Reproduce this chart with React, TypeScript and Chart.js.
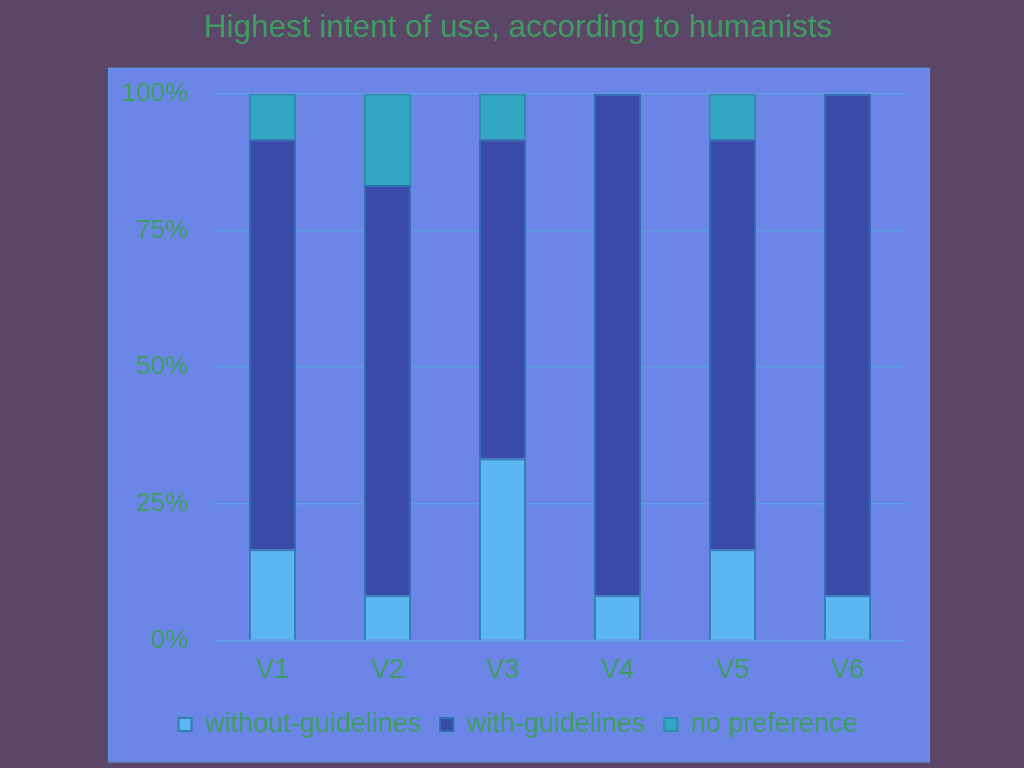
import React, { useEffect, useRef } from "react";
import { Chart, registerables } from "chart.js";

Chart.register(...registerables);

const categories = ["V1", "V2", "V3", "V4", "V5", "V6"];
const withoutGuidelines = [16.7, 8.3, 33.3, 8.3, 16.7, 8.3];
const withGuidelines = [75.0, 75.0, 58.4, 91.7, 75.0, 91.7];
const noPreference = [8.3, 16.7, 8.3, 0, 8.3, 0];
const yTicks = [0, 25, 50, 75, 100];
const titleText = "Highest intent of use, according to humanists";

const TEXT = "#3e9e62";
const FONT = "'Liberation Sans', Arial, sans-serif";

const backgroundPlugin = {
  id: "bgBox",
  beforeDraw(chart: any) {
    const { ctx, chartArea } = chart;
    ctx.save();
    ctx.fillStyle = "#5b4668";
    ctx.fillRect(0, 0, chart.width, chart.height);
    const l = chartArea.left - 107;
    const t = chartArea.top - 26;
    const r = chartArea.right + 24;
    const b = chartArea.bottom + 121;
    ctx.fillStyle = "#6b86e6";
    ctx.fillRect(l, t, r - l, b - t);
    ctx.strokeStyle = "#5b9ae6";
    ctx.lineWidth = 1;
    ctx.strokeRect(l + 0.5, t + 0.5, r - l, b - t);
    ctx.restore();
  },
};

export default function App() {
  const ref = useRef<HTMLCanvasElement | null>(null);
  useEffect(() => {
    if (!ref.current) return;
    const chart = new Chart(ref.current, {
      type: "bar",
      data: {
        labels: categories,
        datasets: [
          {
            label: "without-guidelines",
            data: withoutGuidelines,
            backgroundColor: "#5cb6f2",
            borderColor: "#2f7fb0",
            borderWidth: 2,
          },
          {
            label: "with-guidelines",
            data: withGuidelines,
            backgroundColor: "#3a4aa8",
            borderColor: "#2f6fb0",
            borderWidth: 2,
          },
          {
            label: "no preference",
            data: noPreference,
            backgroundColor: "#33a6c4",
            borderColor: "#2a90a8",
            borderWidth: 2,
          },
        ],
      },
      options: {
        responsive: false,
        animation: false,
        layout: { padding: { left: 122, right: 110, top: 0, bottom: 20 } },
        datasets: { bar: { categoryPercentage: 1, barPercentage: 0.41 } },
        scales: {
          x: {
            stacked: true,
            grid: { display: false, drawTicks: false },
            border: { display: false },
            ticks: { color: TEXT, font: { family: FONT, size: 27 }, padding: 14 },
            afterFit: (axis: any) => {
              axis.height -= 9;
            },
          },
          y: {
            stacked: true,
            min: 0,
            max: 100,
            afterBuildTicks: (axis: any) => {
              axis.ticks = yTicks.map((v) => ({ value: v }));
            },
            afterFit: (axis: any) => {
              axis.width = 93;
            },
            grid: { color: "#5ea0e6", lineWidth: 1.5, drawTicks: false },
            border: { display: false },
            ticks: {
              color: TEXT,
              font: { family: FONT, size: 26 },
              padding: 27,
              callback: (v: any) => v + "%",
            },
          },
          spacer: {
            type: "linear",
            position: "right",
            display: true,
            grid: { display: false, drawTicks: false },
            border: { display: false },
            ticks: { display: false },
            afterFit: (axis: any) => {
              axis.width = 9;
            },
          },
        },
        plugins: {
          title: {
            display: true,
            text: titleText,
            color: TEXT,
            font: { family: FONT, size: 31.5, weight: "normal" },
            padding: { top: 9, bottom: 47 },
          },
          legend: {
            position: "bottom",
            labels: {
              color: TEXT,
              font: { family: FONT, size: 27 },
              boxWidth: 13,
              boxHeight: 13,
              padding: 19,
            },
          },
          tooltip: { enabled: false },
        },
      },
      plugins: [backgroundPlugin],
    });
    return () => chart.destroy();
  }, []);
  return (
    <div style={{ position: "fixed", left: 0, top: 0, width: 1024, height: 768, background: "#5b4668" }}>
      <canvas ref={ref} width={1024} height={768} style={{ display: "block", width: 1024, height: 768 }} />
    </div>
  );
}
